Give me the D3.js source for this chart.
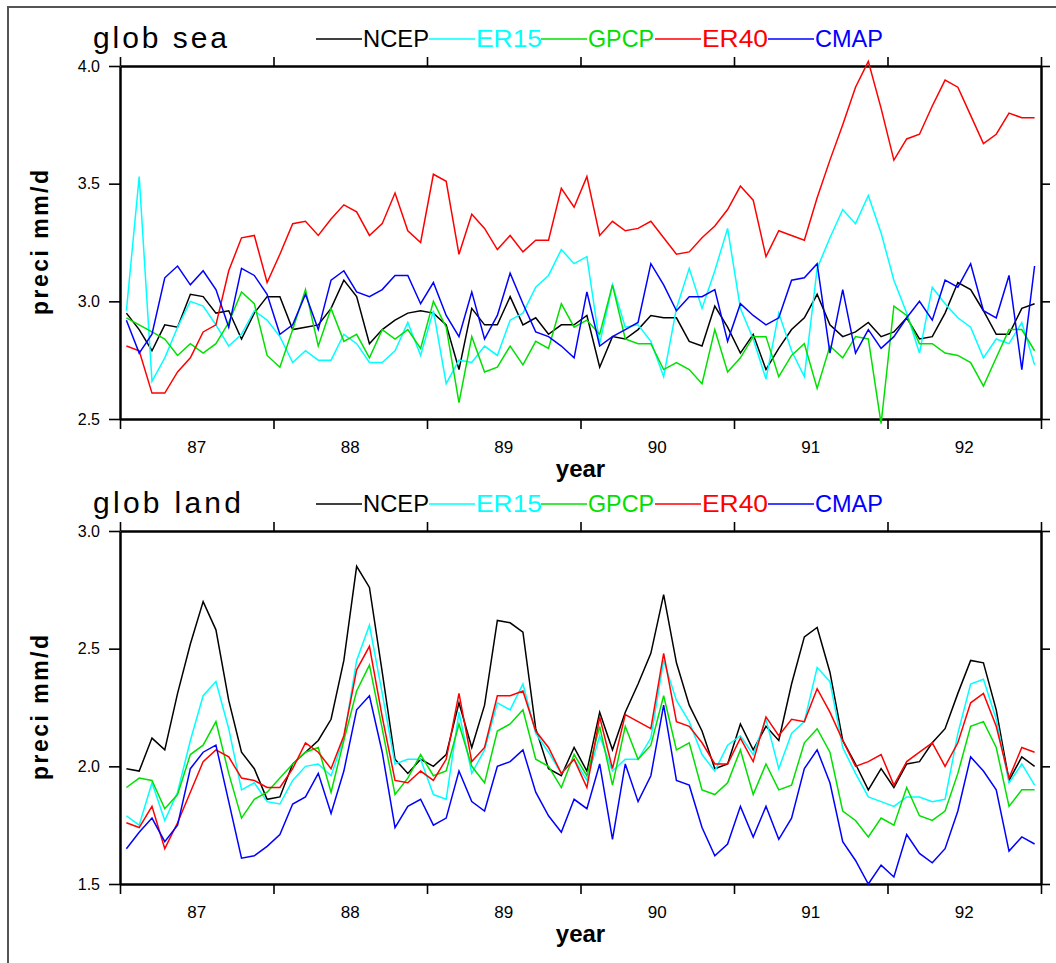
<!DOCTYPE html>
<html><head><meta charset="utf-8">
<script src="https://cdn.jsdelivr.net/npm/d3@7"></script>
<style>body{margin:0;background:#fff}svg{display:block}text{font-family:"Liberation Sans",Arial,sans-serif}</style>
</head><body>
<script>
const seriesNames = ["NCEP","ER15","GPCP","ER40","CMAP"];
const seriesColors = ["#000000","#00ffff","#00e000","#ff0000","#0000ff"];
const yearLabels = ["87","88","89","90","91","92"];

const seaNCEP = [2.95,2.88,2.79,2.90,2.89,3.03,3.02,2.95,2.96,2.84,2.95,3.02,3.02,2.88,2.89,2.90,2.97,3.09,
3.02,2.82,2.88,2.92,2.95,2.96,2.95,2.90,2.71,2.97,2.90,2.90,3.02,2.90,2.93,2.86,2.90,2.90,
2.94,2.72,2.85,2.84,2.88,2.94,2.93,2.93,2.83,2.81,2.98,2.89,2.78,2.86,2.71,2.80,2.88,2.93,
3.03,2.90,2.85,2.87,2.91,2.85,2.87,2.93,2.84,2.85,2.95,3.08,3.05,2.96,2.86,2.86,2.97,2.99];
const seaER15 = [2.96,3.53,2.66,2.76,2.89,3.00,2.98,2.90,2.81,2.86,2.96,2.92,2.85,2.74,2.79,2.75,2.75,2.86,
2.82,2.74,2.74,2.79,2.91,2.77,2.96,2.65,2.75,2.74,2.81,2.77,2.92,2.95,3.06,3.11,3.22,3.16,
3.19,2.82,3.07,2.89,2.90,2.83,2.68,2.97,3.14,2.97,3.13,3.31,2.97,2.84,2.67,2.95,2.79,2.68,
3.14,3.27,3.39,3.33,3.45,3.29,3.09,2.95,2.78,3.06,2.99,2.93,2.89,2.76,2.84,2.82,2.91,2.73];
const seaGPCP = [2.93,2.90,2.87,2.84,2.77,2.82,2.78,2.82,2.91,3.04,2.99,2.77,2.72,2.88,3.05,2.81,2.97,2.83,
2.86,2.76,2.88,2.84,2.88,2.80,3.00,2.89,2.57,2.85,2.70,2.72,2.81,2.73,2.83,2.80,2.99,2.89,
2.92,2.86,3.07,2.84,2.82,2.82,2.71,2.74,2.71,2.65,2.88,2.70,2.76,2.85,2.85,2.68,2.77,2.82,
2.63,2.81,2.76,2.85,2.84,2.48,2.98,2.94,2.82,2.82,2.78,2.77,2.74,2.64,2.76,2.88,2.88,2.79];
const seaER40 = [2.81,2.79,2.61,2.61,2.70,2.76,2.87,2.90,3.13,3.27,3.28,3.08,3.20,3.33,3.34,3.28,3.35,3.41,
3.38,3.28,3.33,3.46,3.30,3.25,3.54,3.51,3.20,3.37,3.31,3.22,3.28,3.21,3.26,3.26,3.48,3.40,
3.53,3.28,3.34,3.30,3.31,3.34,3.27,3.20,3.21,3.27,3.32,3.39,3.49,3.43,3.19,3.30,3.28,3.26,
3.44,3.60,3.75,3.91,4.02,3.82,3.60,3.69,3.71,3.83,3.94,3.91,3.79,3.67,3.71,3.80,3.78,3.78];
const seaCMAP = [2.92,2.78,2.86,3.10,3.15,3.07,3.13,3.05,2.89,3.14,3.11,3.03,2.86,2.90,3.03,2.88,3.09,3.13,
3.04,3.02,3.05,3.11,3.11,2.99,3.08,2.94,2.85,3.04,2.84,2.94,3.12,2.99,2.87,2.85,2.81,2.76,
3.04,2.81,2.85,2.88,2.91,3.16,3.07,2.96,3.02,3.02,3.05,2.83,2.99,2.94,2.90,2.93,3.09,3.10,
3.16,2.78,3.05,2.78,2.88,2.80,2.85,2.93,3.00,2.92,3.09,3.06,3.16,2.96,2.93,3.11,2.71,3.15];

const landNCEP = [1.99,1.98,2.12,2.07,2.31,2.52,2.70,2.58,2.28,2.06,1.99,1.86,1.87,2.01,2.06,2.11,2.20,2.45,
2.85,2.76,2.40,2.03,1.97,2.03,2.00,2.05,2.27,2.08,2.26,2.62,2.61,2.57,2.16,1.99,1.96,2.08,
1.98,2.23,2.07,2.23,2.35,2.48,2.73,2.44,2.26,2.15,1.99,2.01,2.18,2.07,2.17,2.11,2.35,2.55,
2.59,2.40,2.11,2.01,1.90,1.99,1.91,2.01,2.02,2.10,2.16,2.31,2.45,2.44,2.24,1.94,2.04,2.00];
const landER15 = [1.79,1.75,1.93,1.77,1.89,2.11,2.30,2.36,2.16,1.90,1.93,1.85,1.84,1.94,2.00,2.01,1.96,2.12,
2.45,2.60,2.31,2.01,2.03,2.03,1.88,1.86,2.23,1.97,2.07,2.27,2.24,2.35,2.14,2.06,1.97,2.03,
1.94,2.13,1.98,2.03,2.03,2.12,2.45,2.28,2.19,2.05,1.98,2.09,2.13,2.05,2.20,1.99,2.14,2.19,
2.42,2.36,2.08,1.97,1.87,1.85,1.83,1.87,1.87,1.85,1.86,2.14,2.35,2.37,2.20,1.93,2.01,1.92];
const landGPCP = [1.91,1.95,1.94,1.82,1.88,2.05,2.09,2.19,1.97,1.78,1.86,1.89,1.95,2.01,2.06,2.08,1.89,2.11,
2.32,2.43,2.16,1.88,1.95,2.05,1.96,1.98,2.18,2.00,1.93,2.15,2.18,2.24,2.03,2.00,1.91,2.05,
1.96,2.17,1.92,2.17,2.03,2.09,2.30,2.07,2.10,1.90,1.88,1.93,2.07,1.88,2.01,1.90,1.92,2.10,
2.16,2.06,1.81,1.77,1.70,1.78,1.75,1.91,1.79,1.77,1.81,1.97,2.17,2.19,2.08,1.83,1.90,1.90];
const landER40 = [1.76,1.74,1.83,1.65,1.76,1.89,2.02,2.07,2.04,1.95,1.94,1.91,1.91,1.99,2.10,2.06,1.99,2.13,
2.41,2.51,2.21,1.94,1.93,1.98,1.94,2.03,2.31,2.02,2.08,2.30,2.30,2.32,2.15,2.08,1.97,2.03,
1.91,2.21,1.99,2.22,2.19,2.16,2.48,2.19,2.17,2.10,2.01,2.01,2.12,2.02,2.21,2.13,2.20,2.19,
2.33,2.23,2.11,2.00,2.02,2.05,1.92,2.02,2.06,2.10,2.00,2.10,2.27,2.31,2.17,1.95,2.08,2.06];
const landCMAP = [1.65,1.72,1.78,1.68,1.75,1.99,2.06,2.09,1.85,1.61,1.62,1.66,1.71,1.84,1.87,1.97,1.80,1.98,
2.24,2.30,2.06,1.74,1.83,1.86,1.75,1.78,1.98,1.85,1.81,2.00,2.02,2.07,1.89,1.79,1.72,1.86,
1.82,2.01,1.69,2.01,1.85,1.96,2.26,1.94,1.92,1.74,1.62,1.67,1.83,1.70,1.83,1.69,1.78,1.99,
2.07,1.93,1.68,1.60,1.50,1.58,1.53,1.71,1.63,1.59,1.65,1.81,2.04,1.98,1.90,1.64,1.70,1.67];

const seaTicks = [2.5,3.0,3.5,4.0];
const landTicks = [1.5,2.0,2.5,3.0];

const panels = [
  {title:"glob sea", titleLen:134, top:66, domain:[2.5,4.0], ticks:seaTicks, data:[seaNCEP,seaER15,seaGPCP,seaER40,seaCMAP]},
  {title:"glob land", titleLen:148, top:531, domain:[1.5,3.0], ticks:landTicks, data:[landNCEP,landER15,landGPCP,landER40,landCMAP]}
];

const W=1056,H=963;
const svg=d3.select("body").append("svg").attr("width",W).attr("height",H);

// outer frame
svg.append("path").attr("d","M8,963 L8,7 L1056,7").attr("fill","none").attr("stroke","#555").attr("stroke-width",2);

const left=120,right=1041,ph=353;
const x=d3.scaleLinear().domain([0,72]).range([left,right]);
const yearTicks=d3.range(0,73,12);

panels.forEach(p=>{
  const g=svg.append("g");
  const y=d3.scaleLinear().domain(p.domain).range([p.top+ph,p.top]);
  const bottom=p.top+ph;
  const axB=d3.axisBottom(x).tickValues(yearTicks).tickFormat("").tickSizeInner(10).tickSizeOuter(0);
  const axT=d3.axisTop(x).tickValues(yearTicks).tickFormat("").tickSizeInner(9).tickSizeOuter(0);
  const axL=d3.axisLeft(y).tickValues(p.ticks).tickFormat(d3.format(".1f")).tickSizeInner(11).tickSizeOuter(0).tickPadding(9);
  const axR=d3.axisRight(y).tickValues(p.ticks).tickFormat("").tickSizeInner(9).tickSizeOuter(0);
  [[axB,`translate(0,${bottom})`],[axT,`translate(0,${p.top})`],[axL,`translate(${left},0)`],[axR,`translate(${right},0)`]].forEach(([a,t])=>{
    const ag=g.append("g").attr("transform",t).call(a);
    ag.select(".domain").attr("stroke","#000").attr("stroke-width",2.5);
    ag.selectAll(".tick line").attr("stroke","#000").attr("stroke-width",1.6);
    ag.selectAll(".tick text").attr("font-size",16).attr("fill","#000").attr("font-family","Liberation Sans, Arial, sans-serif");
  });
  g.selectAll(".yl").data(yearLabels).enter().append("text")
    .attr("x",(d,i)=>x(i*12+6)).attr("y",bottom+34).attr("text-anchor","middle")
    .attr("font-size",17).text(d=>d);
  g.append("text").attr("x",x(36)).attr("y",bottom+58).attr("text-anchor","middle")
    .attr("font-size",24).attr("font-weight","bold").text("year");
  g.append("text").attr("transform",`translate(48,${p.top+ph/2}) rotate(-90)`).attr("text-anchor","middle")
    .attr("font-size",23).attr("font-weight","bold").attr("textLength",145).attr("lengthAdjust","spacing").text("preci mm/d");
  g.append("text").attr("x",93).attr("y",p.top-18).attr("font-size",30)
    .attr("textLength",p.titleLen).attr("lengthAdjust","spacing").text(p.title);
  const legX=[316,429,541,655,768];
  seriesNames.forEach((n,k)=>{
    g.append("line").attr("x1",legX[k]).attr("x2",legX[k]+46).attr("y1",p.top-27).attr("y2",p.top-27)
      .attr("stroke",seriesColors[k]).attr("stroke-width",1.5);
    g.append("text").attr("x",legX[k]+47).attr("y",p.top-19).attr("font-size",24)
      .attr("fill",seriesColors[k]).attr("textLength",k==4?68:66).attr("lengthAdjust","spacingAndGlyphs").text(n);
  });
  const line=d3.line().x((d,i)=>x(i+0.5)).y(d=>y(d));
  p.data.forEach((s,k)=>{
    g.append("path").datum(s).attr("d",line).attr("fill","none")
      .attr("stroke",seriesColors[k]).attr("stroke-width",1.5).attr("stroke-linejoin","miter");
  });
});
</script>
</body></html>
